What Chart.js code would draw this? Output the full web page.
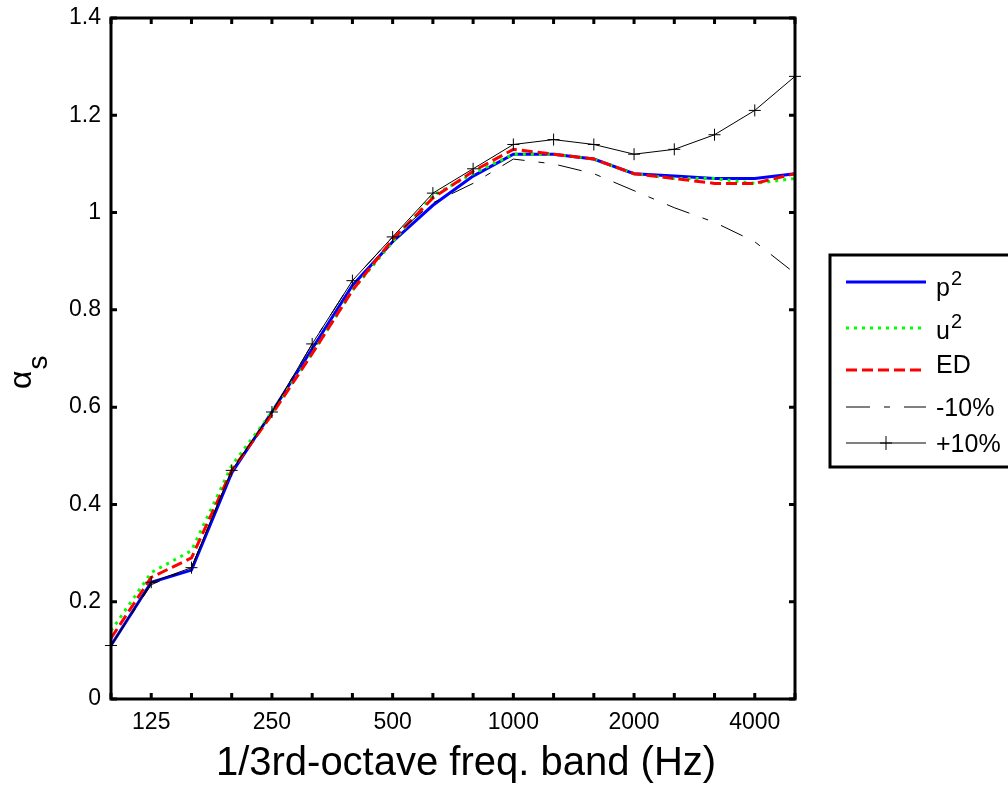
<!DOCTYPE html>
<html>
<head>
<meta charset="utf-8">
<style>
  html, body { margin: 0; padding: 0; background: #fff; }
  #wrap { width: 1008px; height: 788px; }
</style>
</head>
<body>
<div id="wrap"><canvas id="chart" width="1008" height="788"></canvas></div>
<script src="https://cdn.jsdelivr.net/npm/chart.js@4.4.0/dist/chart.umd.min.js"></script>
<script>
// 1/3-octave bands, plotted by index
const bands = [100, 125, 160, 200, 250, 315, 400, 500, 630, 800, 1000, 1250, 1600, 2000, 2500, 3150, 4000, 5000];
const tickBands = [125, 250, 500, 1000, 2000, 4000];
const yTicks = [0, 0.2, 0.4, 0.6, 0.8, 1, 1.2, 1.4];

const p2 = [0.11, 0.24, 0.265, 0.465, 0.59, 0.72, 0.85, 0.94, 1.015, 1.075, 1.12, 1.12, 1.11, 1.08, 1.075, 1.07, 1.07, 1.08];
const u2 = [0.14, 0.26, 0.305, 0.48, 0.59, 0.71, 0.84, 0.94, 1.035, 1.08, 1.12, 1.12, 1.11, 1.08, 1.07, 1.07, 1.06, 1.07];
const ed = [0.125, 0.25, 0.29, 0.47, 0.585, 0.71, 0.84, 0.945, 1.03, 1.085, 1.13, 1.12, 1.11, 1.08, 1.07, 1.06, 1.06, 1.08];
const minus10 = [0.11, 0.235, 0.27, 0.47, 0.59, 0.73, 0.86, 0.95, 1.02, 1.06, 1.11, 1.10, 1.08, 1.045, 1.01, 0.98, 0.94, 0.875];
const plus10 = [0.11, 0.24, 0.27, 0.47, 0.59, 0.73, 0.86, 0.95, 1.04, 1.09, 1.14, 1.15, 1.14, 1.12, 1.13, 1.16, 1.21, 1.28];

const FONT = "'Liberation Sans', Arial, Helvetica, sans-serif";

function pts(arr) {
    return arr.map((v, i) => ({ x: i, y: v }));
}

const series = [
    { label: 'p', sup: '2', data: p2, color: '#0000ff', width: 3, dash: [], order: 5 },
    { label: 'u', sup: '2', data: u2, color: '#00ff00', width: 3, dash: [3, 5], order: 4 },
    { label: 'ED', sup: '', data: ed, color: '#ff0000', width: 3, dash: [11, 5], order: 3 },
    { label: '-10%', sup: '', data: minus10, color: '#000000', width: 1, dash: [24, 14, 6, 14], order: 2 },
    { label: '+10%', sup: '', data: plus10, color: '#000000', width: 1, dash: [], order: 1, marker: true }
];

// axes box, inward ticks, titles and legend (MATLAB look)
const decorPlugin = {
    id: 'decor',
    afterDraw(chart) {
        const ctx = chart.ctx;
        const a = chart.chartArea;
        const xs = chart.scales.x, ys = chart.scales.y;
        ctx.save();
        ctx.strokeStyle = '#000';
        ctx.setLineDash([]);

        // ticks
        ctx.lineWidth = 3;
        const tl = 6;
        ctx.beginPath();
        bands.forEach((b, i) => {
            const px = xs.getPixelForValue(i);
            ctx.moveTo(px, a.bottom); ctx.lineTo(px, a.bottom - tl);
            ctx.moveTo(px, a.top); ctx.lineTo(px, a.top + tl);
        });
        yTicks.forEach(v => {
            const py = ys.getPixelForValue(v);
            ctx.moveTo(a.left, py); ctx.lineTo(a.left + tl, py);
            ctx.moveTo(a.right, py); ctx.lineTo(a.right - tl, py);
        });
        ctx.stroke();

        // box
        ctx.lineWidth = 3;
        ctx.strokeRect(a.left, a.top, a.right - a.left, a.bottom - a.top);

        // x title
        ctx.fillStyle = '#000';
        ctx.font = '40px ' + FONT;
        ctx.textAlign = 'center';
        ctx.textBaseline = 'middle';
        ctx.fillText('1/3rd-octave freq. band (Hz)', 466, 764);

        // y title: alpha with subscript s, rotated
        ctx.save();
        ctx.translate(31, 389);
        ctx.rotate(-Math.PI / 2);
        ctx.textAlign = 'left';
        ctx.textBaseline = 'alphabetic';
        ctx.font = '32px ' + FONT;
        ctx.fillText('α', 0, 0);
        const aw = ctx.measureText('α').width;
        ctx.font = '28px ' + FONT;
        ctx.fillText('s', aw + 1, 16);
        ctx.restore();

        // legend
        const lx = 830, ly = 255, lw = 182, lh = 212;
        ctx.fillStyle = '#fff';
        ctx.fillRect(lx, ly, lw, lh);
        ctx.lineWidth = 3;
        ctx.strokeStyle = '#000';
        ctx.strokeRect(lx, ly, lw, lh);

        const rowsY = [282, 328, 370, 407, 443];
        const baseY = [296, 339, 373, 416, 452];
        series.forEach((s, k) => {
            const y = rowsY[k];
            ctx.strokeStyle = s.color;
            ctx.lineWidth = s.width;
            ctx.setLineDash(s.dash);
            ctx.beginPath();
            ctx.moveTo(846, y); ctx.lineTo(926, y);
            ctx.stroke();
            ctx.setLineDash([]);
            if (s.marker) {
                ctx.lineWidth = 1;
                ctx.beginPath();
                ctx.moveTo(880, y); ctx.lineTo(892, y);
                ctx.moveTo(886, y - 7); ctx.lineTo(886, y + 7);
                ctx.stroke();
            }
            ctx.fillStyle = '#000';
            ctx.textAlign = 'left';
            ctx.textBaseline = 'alphabetic';
            ctx.font = '25px ' + FONT;
            ctx.fillText(s.label, 936, baseY[k]);
            if (s.sup) {
                const w = ctx.measureText(s.label).width;
                ctx.font = '20px ' + FONT;
                ctx.fillText(s.sup, 936 + w + 1, baseY[k] - 11);
            }
        });
        ctx.restore();
    }
};

new Chart(document.getElementById('chart').getContext('2d'), {
    type: 'line',
    data: {
        datasets: series.map(s => ({
            label: s.label + s.sup,
            data: pts(s.data),
            borderColor: s.color,
            backgroundColor: s.color,
            borderWidth: s.width,
            borderDash: s.dash,
            fill: false,
            tension: 0,
            order: s.order,
            pointRadius: s.marker ? 6 : 0,
            pointStyle: 'cross',
            pointBorderColor: '#000',
            pointBorderWidth: 1,
            clip: false
        }))
    },
    options: {
        responsive: false,
        animation: false,
        devicePixelRatio: 1,
        layout: { padding: { left: 0, top: 18, right: 213, bottom: 0 } },
        plugins: {
            legend: { display: false },
            tooltip: { enabled: false }
        },
        scales: {
            x: {
                type: 'linear',
                min: 0,
                max: bands.length - 1,
                grid: { display: false, drawTicks: false },
                border: { display: false },
                afterBuildTicks(scale) {
                    scale.ticks = bands.map((b, i) => ({ value: i }));
                },
                afterFit(scale) {
                    scale.height = 89;
                    scale.paddingLeft = 0;
                    scale.paddingRight = 0;
                },
                ticks: {
                    autoSkip: false,
                    maxRotation: 0,
                    padding: 10,
                    color: '#000',
                    font: { family: FONT, size: 23 },
                    callback: (v) => tickBands.includes(bands[v]) ? String(bands[v]) : ''
                }
            },
            y: {
                min: 0,
                max: 1.4,
                grid: { display: false, drawTicks: false },
                border: { display: false },
                afterBuildTicks(scale) {
                    scale.ticks = yTicks.map(v => ({ value: v }));
                },
                afterFit(scale) {
                    scale.width = 111;
                    scale.paddingTop = 0;
                    scale.paddingBottom = 0;
                },
                ticks: {
                    padding: 10,
                    color: '#000',
                    font: { family: FONT, size: 23 },
                    callback: (v) => String(Number(v.toFixed(1)))
                }
            }
        }
    },
    plugins: [decorPlugin]
});
</script>
</body>
</html>
